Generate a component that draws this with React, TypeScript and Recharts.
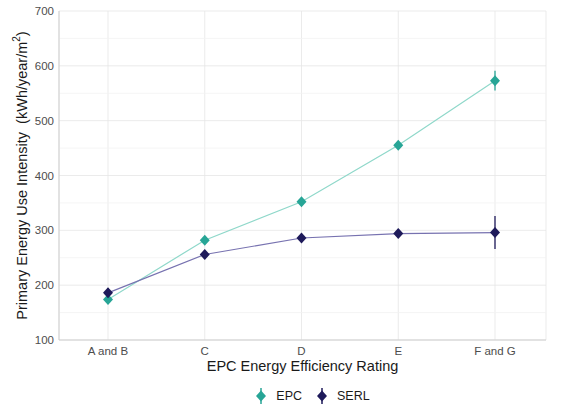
import React from 'react';
import {
  LineChart,
  Line,
  XAxis,
  YAxis,
  CartesianGrid,
  ErrorBar,
  ReferenceLine,
} from 'recharts';

/** EPC rating bands on the x axis. */
const categories = ['A and B', 'C', 'D', 'E', 'F and G'];
/** Mean primary energy use intensity from EPC records. */
const epcValues = [174, 282, 352, 455, 573];
const epcErrors = [4, 4, 4, 5, 18];
/** Mean primary energy use intensity from SERL smart meter data. */
const serlValues = [186, 256, 286, 294, 296];
const serlErrors = [9, 5, 4, 5, 30];
/** Axis ticks and the lighter minor grid lines between them. */
const yTicks = [100, 200, 300, 400, 500, 600, 700];
const yMinor = [150, 250, 350, 450, 550, 650];

const EPC_DOT = '#27a596';
const EPC_LINE = '#8fd8ca';
const SERL_DOT = '#1e1a5a';
const SERL_LINE = '#7772b0';
const BORDER = '#cfcfcf';
const FONT = '"Liberation Sans", Arial, sans-serif';

const data = categories.map((c, i) => ({
  cat: c,
  epc: epcValues[i],
  epcErr: epcErrors[i],
  serl: serlValues[i],
  serlErr: serlErrors[i],
}));

/** Diamond marker like ggplot shape 18. */
function diamond(color: string) {
  return function Diamond(props: { cx?: number; cy?: number; index?: number }) {
    const { cx, cy } = props;
    if (cx == null || cy == null) return null;
    const w = 5;
    const h = 5.5;
    return (
      <polygon
        key={`d-${color}-${props.index}`}
        points={`${cx},${cy - h} ${cx + w},${cy} ${cx},${cy + h} ${cx - w},${cy}`}
        fill={color}
      />
    );
  };
}

/** Rotated y-axis title with superscript 2. */
function YTitle(props: { viewBox?: { x: number; y: number; width: number; height: number } }) {
  const vb = props.viewBox;
  if (!vb) return null;
  const cx = 22;
  const cy = vb.y + vb.height / 2;
  return (
    <text
      x={cx}
      y={cy}
      transform={`rotate(-90, ${cx}, ${cy})`}
      textAnchor="middle"
      dominantBaseline="central"
      fill="#1a1a1a"
      fontSize={14.5}
      fontFamily={FONT}
    >
      Primary Energy Use Intensity {'\u00a0'}(kWh/year/m
      <tspan fontSize={10} dy={-6}>2</tspan>
      <tspan dy={6}>)</tspan>
    </text>
  );
}

function LegendKey({ color, label }: { color: string; label: string }) {
  return (
    <div style={{ display: 'flex', alignItems: 'center', marginRight: 12 }}>
      <svg width={16} height={20}>
        <line x1={8} x2={8} y1={2} y2={18} stroke={color} strokeWidth={1.5} />
        <polygon points="8,4.5 13,10 8,15.5 3,10" fill={color} />
      </svg>
      <span style={{ marginLeft: 7, fontSize: 12.5, color: '#1a1a1a' }}>{label}</span>
    </div>
  );
}

export default function App(): React.ReactElement {
  return (
    <div
      style={{
        position: 'absolute',
        left: 0,
        top: 0,
        width: 567,
        height: 413,
        background: '#fff',
        fontFamily: FONT,
      }}
    >
      <LineChart
        width={567}
        height={413}
        data={data}
        margin={{ top: 11, right: 21, bottom: 33, left: 0 }}
      >
        <CartesianGrid stroke="#e6e6e6" strokeWidth={0.8} />
        {yMinor.map((v) => (
          <ReferenceLine key={v} y={v} stroke="#f2f2f2" strokeWidth={0.8} />
        ))}
        <XAxis
          dataKey="cat"
          padding={{ left: 49, right: 51 }}
          axisLine={{ stroke: BORDER }}
          tickLine={false}
          tickSize={0}
          tickMargin={7}
          height={40}
          tick={{ fill: '#4d4d4d', fontSize: 11.5, fontFamily: FONT }}
          label={{
            value: 'EPC Energy Efficiency Rating',
            position: 'insideBottom',
            offset: 9,
            fill: '#1a1a1a',
            fontSize: 14.5,
            fontFamily: FONT,
          }}
        />
        <XAxis
          xAxisId="top"
          dataKey="cat"
          orientation="top"
          height={0}
          axisLine={{ stroke: BORDER }}
          tick={false}
          tickLine={false}
        />
        <YAxis
          domain={[100, 700]}
          ticks={yTicks}
          width={59}
          axisLine={{ stroke: BORDER }}
          tickLine={false}
          tickSize={0}
          tickMargin={5}
          tick={{ fill: '#4d4d4d', fontSize: 11.5, fontFamily: FONT }}
          label={<YTitle />}
        />
        <YAxis
          yAxisId="right"
          orientation="right"
          width={0}
          domain={[100, 700]}
          axisLine={{ stroke: BORDER }}
          tick={false}
          tickLine={false}
        />
        <Line
          dataKey="epc"
          type="linear"
          stroke={EPC_LINE}
          strokeWidth={1.2}
          dot={diamond(EPC_DOT)}
          activeDot={false}
          isAnimationActive={false}
        >
          <ErrorBar dataKey="epcErr" direction="y" width={0} stroke={EPC_DOT} strokeWidth={1.3} />
        </Line>
        <Line
          dataKey="serl"
          type="linear"
          stroke={SERL_LINE}
          strokeWidth={1.2}
          dot={diamond(SERL_DOT)}
          activeDot={false}
          isAnimationActive={false}
        >
          <ErrorBar dataKey="serlErr" direction="y" width={0} stroke={SERL_DOT} strokeWidth={1.3} />
        </Line>
      </LineChart>
      <div
        style={{
          position: 'absolute',
          left: 0,
          width: 567,
          top: 386,
          display: 'flex',
          justifyContent: 'center',
          paddingLeft: 68,
          boxSizing: 'border-box',
        }}
      >
        <LegendKey color={EPC_DOT} label="EPC" />
        <LegendKey color={SERL_DOT} label="SERL" />
      </div>
    </div>
  );
}
